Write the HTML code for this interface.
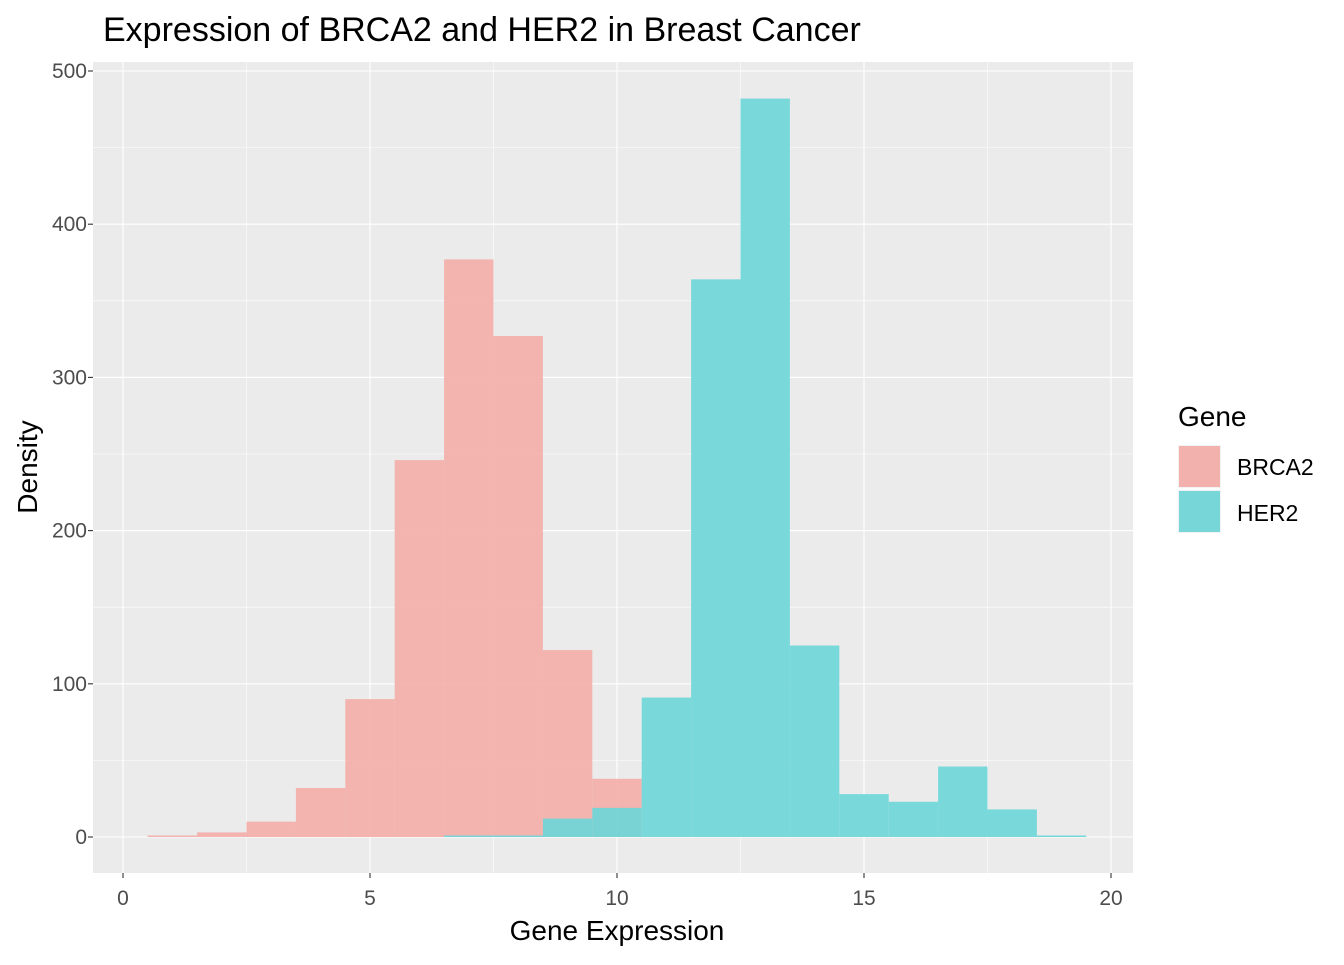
<!DOCTYPE html>
<html><head><meta charset="utf-8"><style>
body{margin:0;background:#fff;}
svg text{font-family:"Liberation Sans",Arial,sans-serif;}
</style></head><body>
<svg id="chart" width="1344" height="960" xmlns="http://www.w3.org/2000/svg">
<rect x="0" y="0" width="1344" height="960" fill="#fff"/>
<rect x="93" y="62" width="1040" height="811" fill="#EBEBEB"/>
<g id="grid"></g>
<g id="bars"></g>
<g id="axes"></g>
<text x="103" y="41" font-size="34" fill="#000">Expression of BRCA2 and HER2 in Breast Cancer</text>
<text x="617" y="940" font-size="28" text-anchor="middle" fill="#000">Gene Expression</text>
<text transform="translate(37,467) rotate(-90)" font-size="28" text-anchor="middle" fill="#000">Density</text>
<g>
<text x="1178" y="426" font-size="28" fill="#000">Gene</text>
<rect x="1178" y="445" width="43" height="43" fill="#F2F2F2"/>
<rect x="1179" y="446" width="41" height="41" fill="#F2B1AD"/>
<text x="1237" y="475" font-size="23" fill="#000">BRCA2</text>
<rect x="1178" y="490" width="43" height="43" fill="#F2F2F2"/>
<rect x="1179" y="491" width="41" height="41" fill="#77D6D8"/>
<text x="1237" y="521" font-size="23" fill="#000">HER2</text>
</g>
</svg>
<script>
const binCenters = [1,2,3,4,5,6,7,8,9,10,11,12,13,14,15,16,17,18,19];
const brca2Values = [1,3,10,32,90,246,377,327,122,38,0,0,0,0,0,0,0,0,0];
const her2Values = [0,0,0,0,0,0,1,1,12,19,91,364,482,125,28,23,46,18,1];
const xTicks = [0,5,10,15,20];
const yTicks = [0,100,200,300,400,500];
const binWidth = 1;
const NS = "http://www.w3.org/2000/svg";
const X0 = 123, XS = (1111-123)/20;
const Y0 = 837, YS = (837-71)/500;
const xs = v => X0 + v*XS;
const ys = v => Y0 - v*YS;
function mk(tag, attrs, parent){const e=document.createElementNS(NS,tag);for(const k in attrs)e.setAttribute(k,attrs[k]);parent.appendChild(e);return e;}
const grid=document.getElementById('grid'), bars=document.getElementById('bars'), axes=document.getElementById('axes');
for(let i=0;i<xTicks.length-1;i++){const v=(xTicks[i]+xTicks[i+1])/2;
 const l=mk('line',{x1:xs(v),x2:xs(v),y1:62,y2:873,stroke:'#fff','stroke-width':0.55},grid);
 
 }
for(let i=0;i<yTicks.length-1;i++){const v=(yTicks[i]+yTicks[i+1])/2;
 const l=mk('line',{x1:93,x2:1133,y1:ys(v),y2:ys(v),stroke:'#fff','stroke-width':0.55},grid);
 
 }
xTicks.forEach(v=>{
 const l=mk('line',{x1:xs(v),x2:xs(v),y1:62,y2:873,stroke:'#fff','stroke-width':1.1},grid);
 
 
 const t=mk('line',{x1:xs(v),x2:xs(v),y1:873,y2:878,stroke:'#333','stroke-width':1.1},axes);
 
 
 const tx=mk('text',{x:xs(v),y:905,'font-size':21,'text-anchor':'middle',fill:'#4D4D4D'},axes);
 tx.textContent=v;
 
 
});
yTicks.forEach(v=>{
 const l=mk('line',{x1:93,x2:1133,y1:ys(v),y2:ys(v),stroke:'#fff','stroke-width':1.1},grid);
 
 
 const t=mk('line',{x1:88,x2:93,y1:ys(v),y2:ys(v),stroke:'#333','stroke-width':1.1},axes);
 
 
 const tx=mk('text',{x:87,y:ys(v)+7,'font-size':21,'text-anchor':'end',fill:'#4D4D4D'},axes);
 tx.textContent=v;
 
 
});
function drawSeries(vals,color,name){
 binCenters.forEach((c,i)=>{const v=vals[i]; if(v<=0)return;
  const r=mk('rect',{x:xs(c-binWidth/2),y:ys(v),width:binWidth*XS,height:Y0-ys(v),fill:color,'fill-opacity':0.92},bars);
  
  
 });
}
drawSeries(brca2Values,'#F3AEA9','brca2');
drawSeries(her2Values,'#6FD6D8','her2');
</script>
</body></html>
